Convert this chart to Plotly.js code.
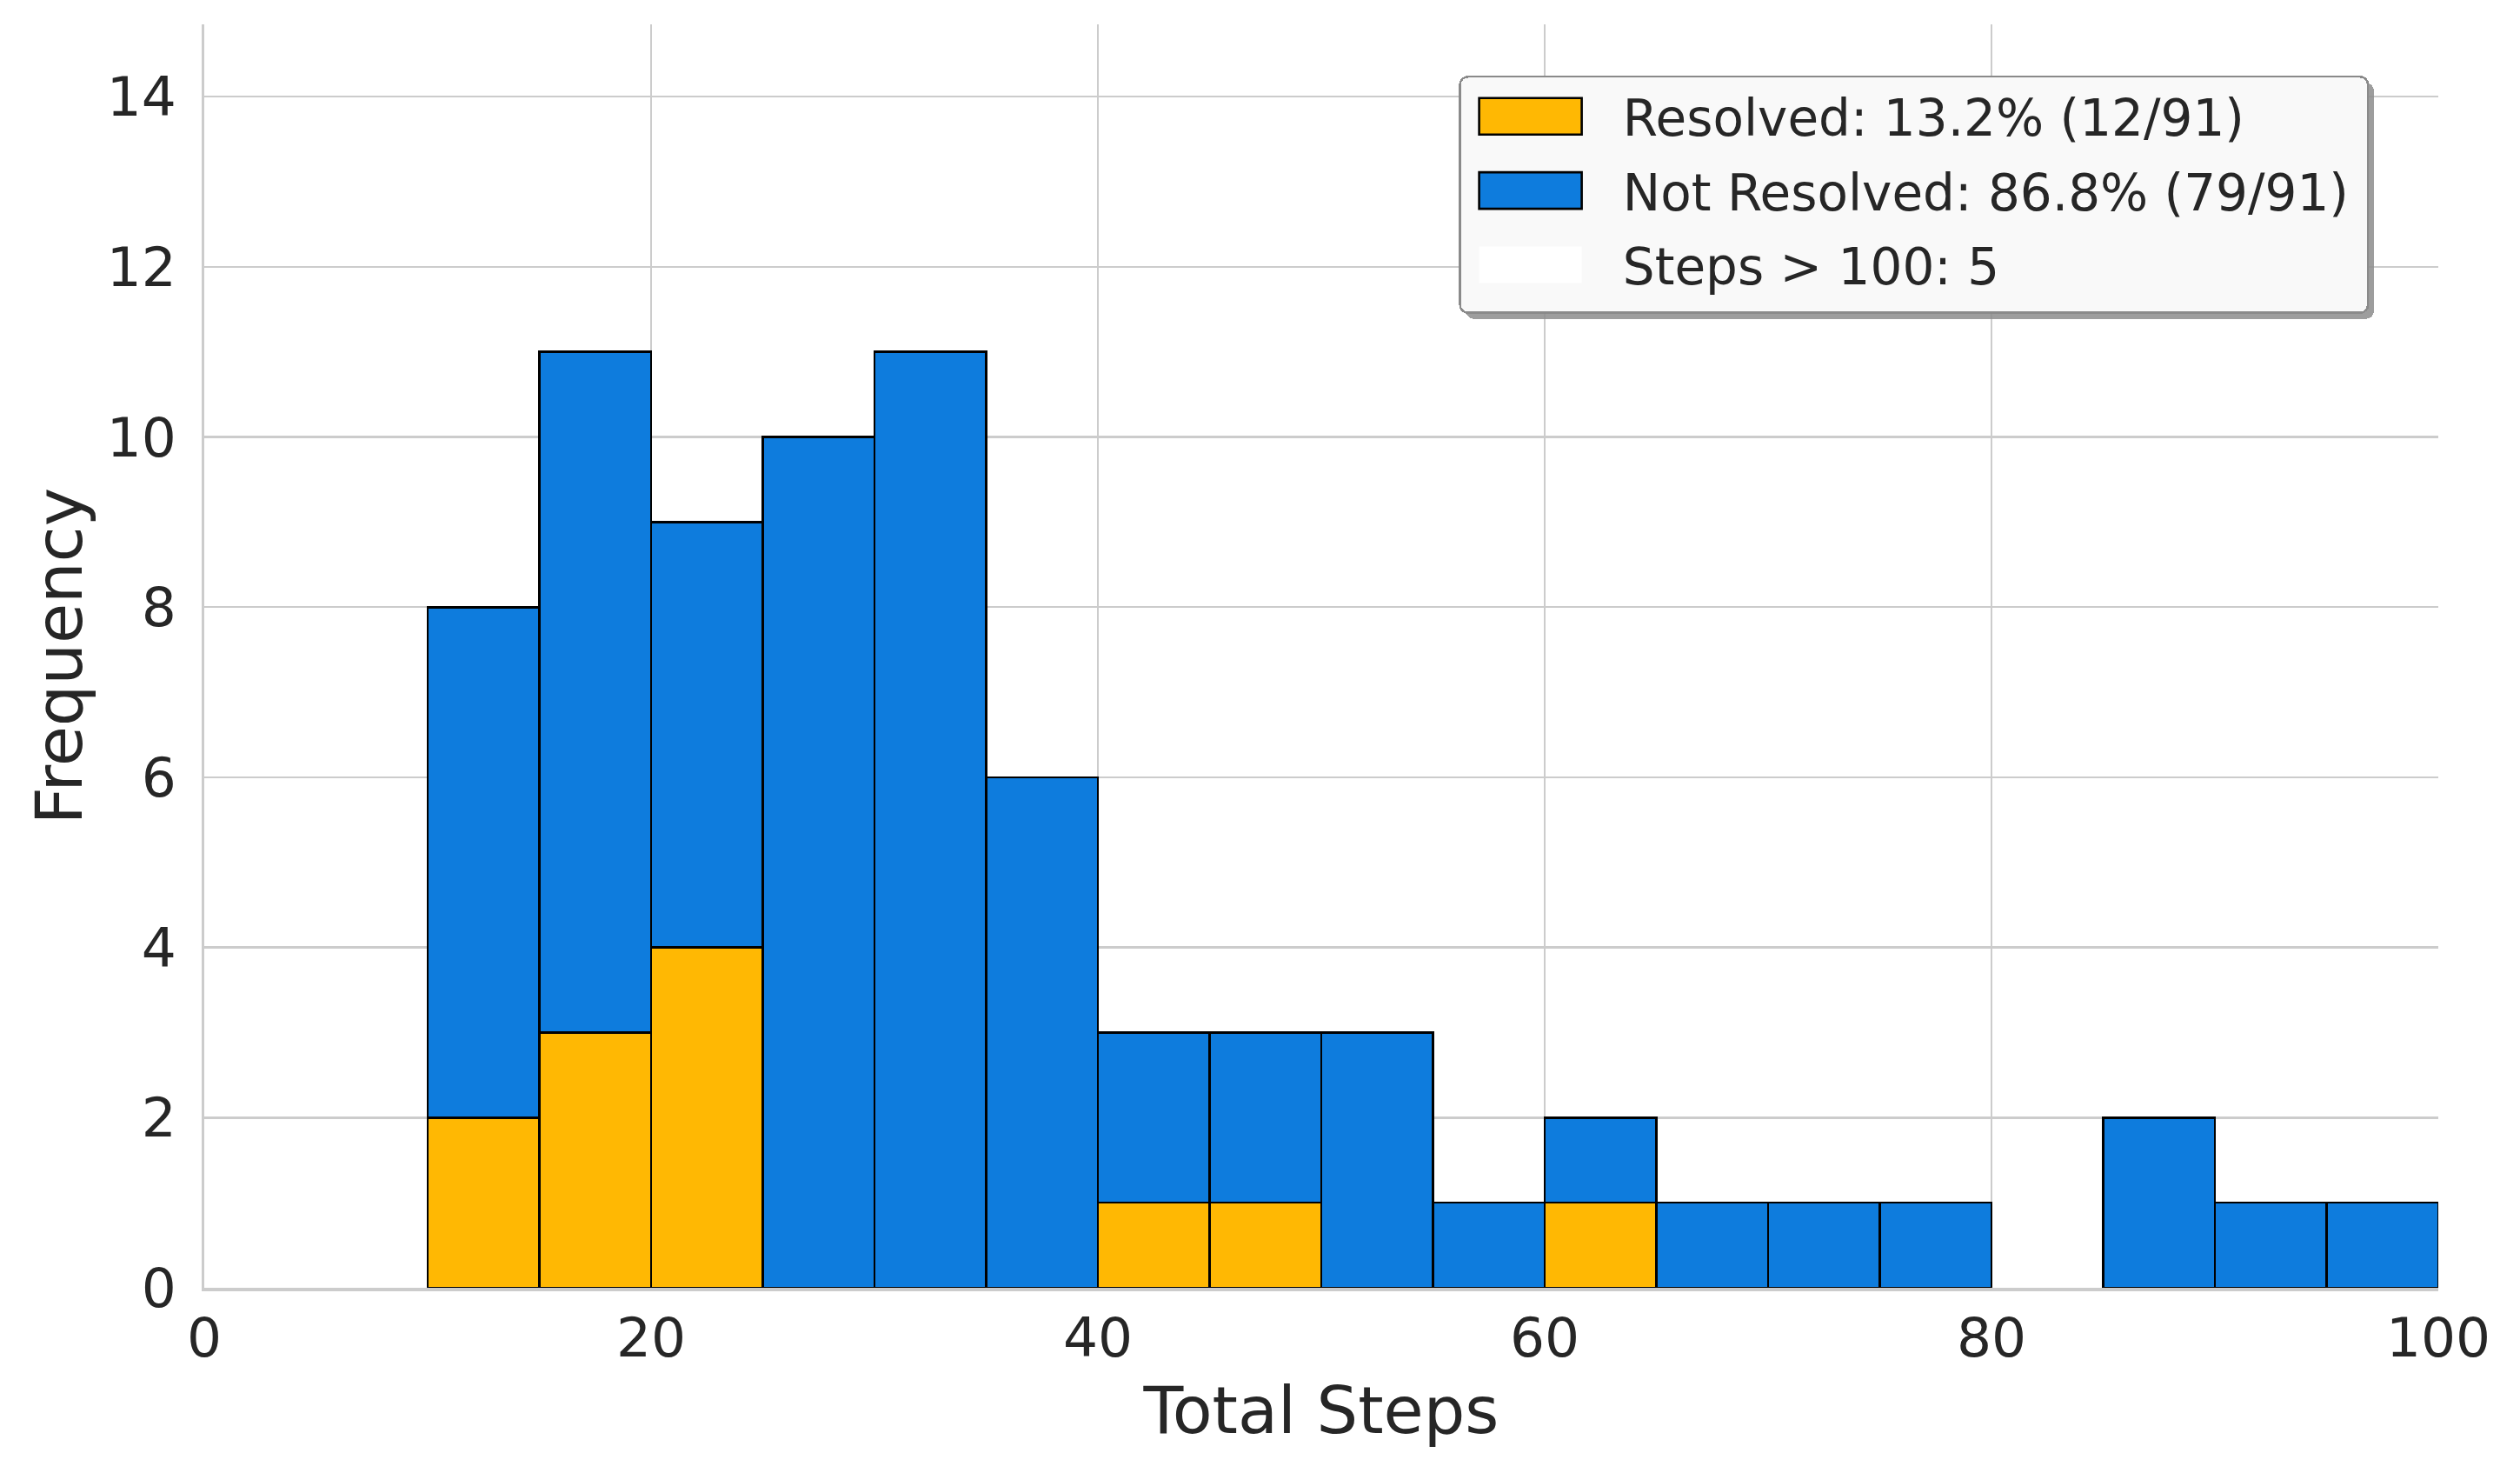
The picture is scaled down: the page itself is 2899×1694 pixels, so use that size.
<!DOCTYPE html>
<html><head><meta charset="utf-8">
<script src="https://cdn.plot.ly/plotly-3.0.1.min.js"></script>
<style>html,body{margin:0;padding:0;background:#fff}</style>
</head><body>
<div id="chart" style="width:2899px;height:1694px"></div>
<script>
// ---- data ----
const binStarts = [10,15,20,25,30,35,40,45,50,55,60,65,70,75,80,85,90,95];
const binWidth = 5;
const resolvedCounts    = [2,3,4,0,0,0,1,1,0,0,1,0,0,0,0,0,0,0];
const notResolvedCounts = [6,8,5,10,11,6,2,2,3,1,1,1,1,1,0,2,1,1];
const legendLabels = ["Resolved: 13.2% (12/91)", "Not Resolved: 86.8% (79/91)", "Steps > 100: 5"];
const xTicks = [0,20,40,60,80,100];
const yTicks = [0,2,4,6,8,10,12,14];
const xTitle = "Total Steps";
const yTitle = "Frequency";

const FONT = "DejaVu Sans";
const TXT = "#262626";
const GRID = "#cccccc";

// empty bins are not drawn (matplotlib draws nothing for a zero-height bar)
const hideZero = arr => arr.map(v => v === 0 ? null : v);

const data = [
  {type:'bar', x:binStarts, y:hideZero(resolvedCounts), width:binWidth, offset:0,
   name:legendLabels[0], legendgroup:'g1',
   marker:{color:'#FFB803', line:{color:'#000000', width:2.6}}},
  {type:'bar', x:binStarts, y:hideZero(notResolvedCounts), width:binWidth, offset:0,
   name:legendLabels[1], legendgroup:'g2',
   marker:{color:'#0E7CDD', line:{color:'#000000', width:2.6}}},
  {type:'bar', x:[null], y:[null], name:legendLabels[2], legendgroup:'g3', showlegend:true,
   marker:{color:'#ffffff', line:{color:'#ffffff', width:0}}}
];

const layout = {
  width:2899, height:1694,
  margin:{l:235, r:94, t:28, b:213},
  paper_bgcolor:'#ffffff', plot_bgcolor:'#ffffff',
  barmode:'stack', bargap:0,
  font:{family:FONT, color:TXT},
  xaxis:{range:[0,100], tickvals:xTicks, ticktext:xTicks.map(String),
    showgrid:true, gridcolor:GRID, gridwidth:2.5, zeroline:false,
    showline:true, linecolor:GRID, linewidth:3.5, ticks:'',
    tickfont:{family:FONT, size:63, color:TXT},
    title:{text:xTitle, font:{family:FONT, size:75, color:TXT}, standoff:22}},
  yaxis:{range:[0,14.85], tickvals:yTicks, ticktext:yTicks.map(String),
    showgrid:true, gridcolor:GRID, gridwidth:2.5, zeroline:false,
    showline:true, linecolor:GRID, linewidth:3.5, ticks:'', ticklabelstandoff:16,
    tickfont:{family:FONT, size:63, color:TXT},
    title:{text:yTitle, font:{family:FONT, size:75, color:TXT}, standoff:4}},
  showlegend:true,
  legend:{x:0.9685, y:0.9594, xanchor:'right', yanchor:'top',
    bgcolor:'rgba(249,249,249,1)', bordercolor:'#8a8a8a', borderwidth:2.5,
    font:{family:FONT, size:58, color:TXT}, traceorder:'grouped', tracegroupgap:7,
    itemwidth:176}
};

Plotly.newPlot('chart', data, layout, {staticPlot:true}).then(function(gd){
  const leg = gd.querySelector('g.legend');
  if(!leg) return;
  const bg = leg.querySelector('rect.bg');
  if(!bg) return;
  // right padding like matplotlib's legend
  let maxRight = 0;
  leg.querySelectorAll('text.legendtext').forEach(function(t){
    maxRight = Math.max(maxRight, t.getBoundingClientRect().right);
  });
  let bgR = bg.getBoundingClientRect();
  const w = parseFloat(bg.getAttribute('width'));
  bg.setAttribute('width', w + (maxRight + 22 - bgR.right));
  bg.setAttribute('height', parseFloat(bg.getAttribute('height')) + 9);
  // keep the right edge where the reference has it
  bgR = bg.getBoundingClientRect();
  const targetRight = 2724;
  const dx = targetRight - bgR.right;
  const m = /translate\(\s*([-\d.eE]+)[\s,]+([-\d.eE]+)\s*\)/.exec(leg.getAttribute('transform') || '');
  if(m) leg.setAttribute('transform','translate(' + (parseFloat(m[1]) + dx) + ',' + m[2] + ')');
  bg.setAttribute('rx', 9); bg.setAttribute('ry', 9);
  // shadow
  const sh = bg.cloneNode(false);
  sh.setAttribute('class','legshadow');
  sh.setAttribute('style','fill:rgb(140,140,140);fill-opacity:0.85;stroke:none');
  sh.setAttribute('transform', (bg.getAttribute('transform') || '') + ' translate(7,7)');
  bg.parentNode.insertBefore(sh, bg);
  // larger legend patches
  bgR = bg.getBoundingClientRect();
  leg.querySelectorAll('g.traces').forEach(function(tr){
    const p = tr.querySelector('.legendpoints path');
    if(!p) return;
    p.setAttribute('d','M0,-21H118V21H0Z');
    p.removeAttribute('transform');
    const r = p.getBoundingClientRect();
    const ddx = (bgR.left + 22) - r.left;
    p.setAttribute('transform','translate(' + ddx + ',0)');
  });
});
</script>
</body></html>
